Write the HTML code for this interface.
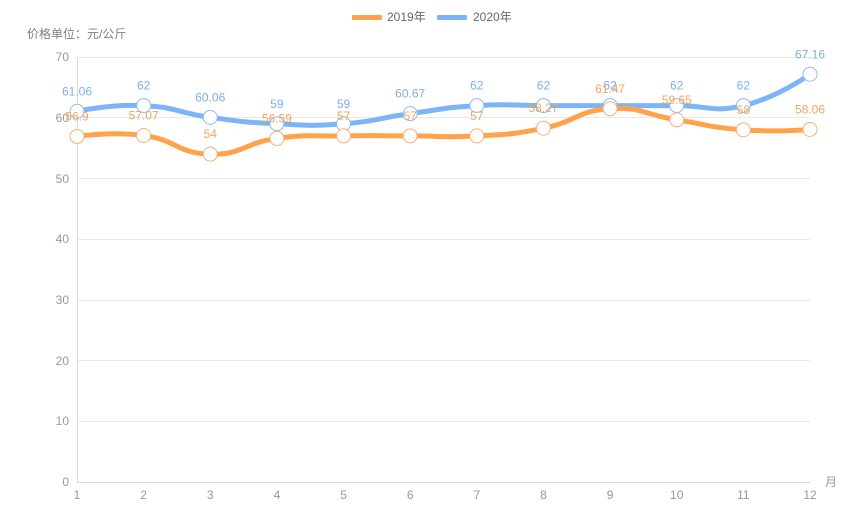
<!DOCTYPE html>
<html>
<head>
<meta charset="utf-8">
<style>
  html, body { margin:0; padding:0; background:#fff; }
  svg { display:block; }
  text { font-family: "Liberation Sans", "Noto Sans CJK SC", sans-serif; }
</style>
</head>
<body>
<svg width="866" height="529" viewBox="0 0 866 529" xmlns="http://www.w3.org/2000/svg">
  <rect width="866" height="529" fill="#fff"/>

  <!-- title -->
  <text x="27" y="38" font-size="12" fill="#808080">价格单位：元/公斤</text>

  <!-- legend -->
  <rect x="352" y="15" width="30" height="5" rx="1" fill="#FFA24A"/>
  <text x="387" y="21" font-size="12" fill="#666">2019年</text>
  <rect x="437" y="15" width="30" height="5" rx="1" fill="#7CB5F7"/>
  <text x="473" y="21" font-size="12" fill="#666">2020年</text>

  <!-- grid -->
  <g stroke="#e8e8e8" stroke-width="1" fill="none">
    <line x1="77" y1="57.5" x2="810" y2="57.5"/>
    <line x1="77" y1="117.5" x2="810" y2="117.5"/>
    <line x1="77" y1="178.5" x2="810" y2="178.5"/>
    <line x1="77" y1="239.5" x2="810" y2="239.5"/>
    <line x1="77" y1="300.5" x2="810" y2="300.5"/>
    <line x1="77" y1="360.5" x2="810" y2="360.5"/>
    <line x1="77" y1="421.5" x2="810" y2="421.5"/>
  </g>
  <line x1="77.5" y1="57" x2="77.5" y2="482" stroke="#dcdcdc" stroke-width="1"/>
  <line x1="77" y1="482.5" x2="810" y2="482.5" stroke="#dcdcdc" stroke-width="1"/>

  <!-- y tick labels -->
  <g font-size="12" fill="#999" text-anchor="end">
    <text x="69" y="61">70</text>
    <text x="69" y="122">60</text>
    <text x="69" y="183">50</text>
    <text x="69" y="243">40</text>
    <text x="69" y="304">30</text>
    <text x="69" y="365">20</text>
    <text x="69" y="425">10</text>
    <text x="69" y="486">0</text>
  </g>

  <!-- x tick labels -->
  <g font-size="12" fill="#999" text-anchor="middle">
    <text x="77" y="499">1</text>
    <text x="143.64" y="499">2</text>
    <text x="210.27" y="499">3</text>
    <text x="276.91" y="499">4</text>
    <text x="343.55" y="499">5</text>
    <text x="410.18" y="499">6</text>
    <text x="476.82" y="499">7</text>
    <text x="543.45" y="499">8</text>
    <text x="610.09" y="499">9</text>
    <text x="676.73" y="499">10</text>
    <text x="743.36" y="499">11</text>
    <text x="810" y="499">12</text>
  </g>
  <text x="825" y="486" font-size="12" fill="#999">月</text>

  <!-- 2020 line -->
  <path fill="none" stroke="#7CB5F7" stroke-width="5" stroke-linecap="round" stroke-linejoin="round"
    d="M77,111.28 C77,111.28 110.51,104.06 143.64,105.57 C177.15,107.10 176.77,112.77 210.27,117.35 C243.41,121.88 243.51,122.18 276.91,123.79 C310.15,125.40 310.42,126.31 343.55,123.79 C377.06,121.24 376.79,118.21 410.18,113.65 C443.43,109.10 443.38,107.60 476.82,105.57 C510.02,103.56 510.13,105.57 543.45,105.57 C576.77,105.57 576.77,105.57 610.09,105.57 C643.41,105.57 643.41,105.57 676.73,105.57 C710.05,105.57 711.70,113.01 743.36,105.57 C778.34,97.35 810,74.25 810,74.25"/>

  <!-- 2019 line -->
  <path fill="none" stroke="#FFA24A" stroke-width="5" stroke-linecap="round" stroke-linejoin="round"
    d="M77,136.54 C77,136.54 110.95,131.18 143.64,135.50 C177.59,139.98 176.77,153.41 210.27,154.14 C243.41,154.87 243.15,143.03 276.91,138.42 C309.79,133.93 310.22,136.55 343.55,135.93 C376.87,135.31 376.86,135.93 410.18,135.93 C443.50,135.93 443.61,137.85 476.82,135.93 C510.25,134.00 510.70,134.89 543.45,128.22 C577.34,121.32 576.32,110.91 610.09,108.79 C642.96,106.72 643.37,114.57 676.73,119.84 C710.01,125.10 709.85,127.43 743.36,129.86 C776.49,132.26 810,129.49 810,129.49"/>

  <!-- 2020 symbols -->
  <g fill="#fff" stroke="#8DBDF2" stroke-width="1">
    <circle cx="77" cy="111.28" r="7"/>
    <circle cx="143.64" cy="105.57" r="7"/>
    <circle cx="210.27" cy="117.35" r="7"/>
    <circle cx="276.91" cy="123.79" r="7"/>
    <circle cx="343.55" cy="123.79" r="7"/>
    <circle cx="410.18" cy="113.65" r="7"/>
    <circle cx="476.82" cy="105.57" r="7"/>
    <circle cx="543.45" cy="105.57" r="7"/>
    <circle cx="610.09" cy="105.57" r="7"/>
    <circle cx="676.73" cy="105.57" r="7"/>
    <circle cx="743.36" cy="105.57" r="7"/>
    <circle cx="810" cy="74.25" r="7"/>
  </g>

  <!-- 2019 symbols -->
  <g fill="#fff" stroke="#F3B27A" stroke-width="1">
    <circle cx="77" cy="136.54" r="7"/>
    <circle cx="143.64" cy="135.50" r="7"/>
    <circle cx="210.27" cy="154.14" r="7"/>
    <circle cx="276.91" cy="138.42" r="7"/>
    <circle cx="343.55" cy="135.93" r="7"/>
    <circle cx="410.18" cy="135.93" r="7"/>
    <circle cx="476.82" cy="135.93" r="7"/>
    <circle cx="543.45" cy="128.22" r="7"/>
    <circle cx="610.09" cy="108.79" r="7"/>
    <circle cx="676.73" cy="119.84" r="7"/>
    <circle cx="743.36" cy="129.86" r="7"/>
    <circle cx="810" cy="129.49" r="7"/>
  </g>

  <!-- 2020 labels -->
  <g font-size="12" fill="#7DAFEB" text-anchor="middle">
    <text x="77" y="95.3">61.06</text>
    <text x="143.64" y="89.6">62</text>
    <text x="210.27" y="101.4">60.06</text>
    <text x="276.91" y="107.8">59</text>
    <text x="343.55" y="107.8">59</text>
    <text x="410.18" y="97.7">60.67</text>
    <text x="476.82" y="89.6">62</text>
    <text x="543.45" y="89.6">62</text>
    <text x="610.09" y="89.6">62</text>
    <text x="676.73" y="89.6">62</text>
    <text x="743.36" y="89.6">62</text>
    <text x="810" y="58.3">67.16</text>
  </g>

  <!-- 2019 labels -->
  <g font-size="12" fill="#F2A65A" text-anchor="middle">
    <text x="77" y="120.5">56.9</text>
    <text x="143.64" y="119.5">57.07</text>
    <text x="210.27" y="138.1">54</text>
    <text x="276.91" y="122.4">56.59</text>
    <text x="343.55" y="119.9">57</text>
    <text x="410.18" y="119.9">57</text>
    <text x="476.82" y="119.9">57</text>
    <text x="543.45" y="112.2">58.27</text>
    <text x="610.09" y="92.8">61.47</text>
    <text x="676.73" y="103.8">59.65</text>
    <text x="743.36" y="113.9">58</text>
    <text x="810" y="113.5">58.06</text>
  </g>
</svg>
</body>
</html>
